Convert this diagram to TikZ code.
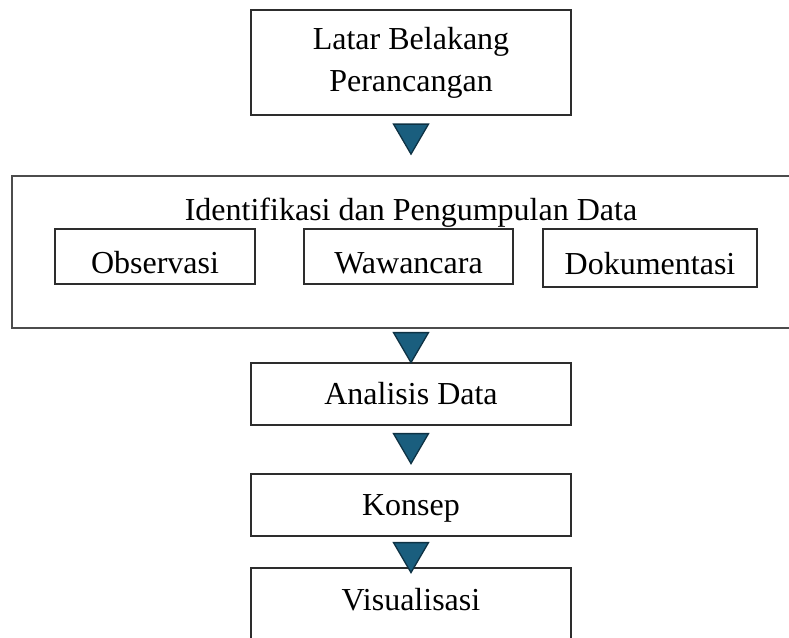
\documentclass[tikz,border=0pt]{standalone}
\usepackage{fontspec}
\setmainfont{Liberation Serif}
\definecolor{boxline}{RGB}{45,45,45}
\definecolor{trifill}{RGB}{26,94,126}
\definecolor{triline}{RGB}{14,50,68}
\begin{document}
\begin{tikzpicture}[x=1pt,y=-1pt,
  every node/.style={font=\fontsize{32}{42}\selectfont},
  stagebox/.style={draw=boxline,line width=1.2pt,minimum width=320pt,minimum height=62pt,
    inner sep=0pt,text height=20pt,text depth=0pt},
  subbox/.style={draw=boxline,line width=1.2pt,minimum height=55pt,
    inner sep=0pt,text height=33pt,text depth=0pt},
  groupbox/.style={draw=boxline!85,line width=1.2pt,minimum width=788pt,minimum height=152pt,inner sep=0pt},
  flowtri/.style={fill=trifill,draw=triline,line width=1.3pt,line join=miter}]
\useasboundingbox (0,0) rectangle (789,637);

% stages of the flow
\node[draw=boxline,line width=1.2pt,minimum width=320pt,minimum height=105pt,align=center,inner sep=0pt]
  (latar) at (411,62.5) {Latar Belakang\\Perancangan};
\node[groupbox] (ident) at (406,252) {};
\node[anchor=base] (identtitle) at (411,220) {Identifikasi dan Pengumpulan Data};
\node[subbox,minimum width=200pt] (obs) at (155,256.5) {Observasi};
\node[subbox,minimum width=209pt] (waw) at (408.5,256.5) {Wawancara};
\node[subbox,minimum width=214pt,minimum height=58pt] (dok) at (650,258) {Dokumentasi};
\node[stagebox] (analisis) at (411,394) {Analisis Data};
\node[stagebox] (konsep) at (411,505) {Konsep};
\node[stagebox,minimum height=100pt,text depth=36pt] (vis) at (411,618) {Visualisasi};

% downward markers between stages
\path (latar.south) ++(0,8.5) coordinate (t1);
\path (ident.south) ++(5,4) coordinate (t2);
\path (analisis.south) ++(0,8) coordinate (t3);
\path (konsep.south) ++(0,6) coordinate (t4);
\foreach \t in {t1,t2,t3,t4}
  \draw[flowtri] (\t) ++(-17.5,0) -- ++(35,0) -- ++(-17.5,30) -- cycle;
\end{tikzpicture}
\end{document}
